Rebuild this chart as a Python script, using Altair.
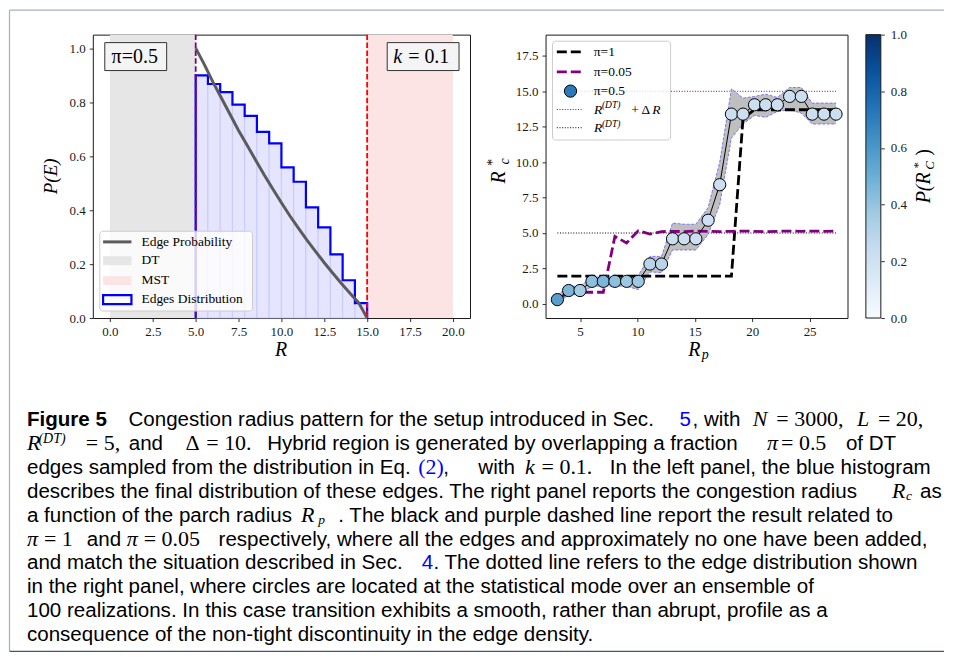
import altair as alt
import pandas as pd

SERIF = "Liberation Serif"
SANS = "Liberation Sans"

# ---------------- left panel: edge distribution ----------------
bin_edges = [5.0, 5.714, 6.429, 7.143, 7.857, 8.571, 9.286, 10.0,
             10.714, 11.429, 12.143, 12.857, 13.571, 14.286, 15.0]
bin_heights = [0.899, 0.867, 0.837, 0.791, 0.749, 0.690, 0.647,
               0.558, 0.505, 0.410, 0.336, 0.236, 0.140, 0.055]
curve_r = [5.0, 5.5, 6.0, 6.5, 7.0, 7.5, 8.0, 8.5, 9.0, 9.5, 10.0,
           10.5, 11.0, 11.5, 12.0, 12.5, 13.0, 13.5, 14.0, 14.5, 15.0]
curve_p = [1.00, 0.94, 0.875, 0.815, 0.755, 0.695, 0.64, 0.585, 0.53, 0.478, 0.427,
           0.378, 0.332, 0.288, 0.246, 0.205, 0.166, 0.128, 0.092, 0.057, 0.0]
dt_span = [0.0, 5.0]
mst_span = [15.0, 20.0]
r_dt = 5.0
r_mst = 15.0
left_xticks = [0, 2.5, 5, 7.5, 10, 12.5, 15, 17.5, 20]
left_yticks = [0, 0.2, 0.4, 0.6, 0.8, 1.0]

# ---------------- right panel: congestion radius ----------------
rp = [3.03, 4.01, 5.0, 6.04, 7.03, 8.04, 9.06, 10.07, 11.09, 12.1, 13.06, 14.07, 15.09,
      16.16, 17.17, 18.19, 19.2, 20.2, 21.17, 22.19, 23.26, 24.28, 25.23, 26.25, 27.3]
rc_mode = [0.30, 0.94, 0.94, 1.59, 1.59, 1.59, 1.59, 1.59, 2.81, 2.81, 4.59, 4.59, 4.59,
           5.90, 8.41, 13.39, 13.39, 14.05, 14.05, 14.05, 14.64, 14.64, 13.39, 13.39, 13.39]
rc_hi = [0.60, 1.25, 1.25, 1.90, 1.90, 1.90, 1.90, 2.00, 3.35, 3.35, 5.70, 5.62, 5.62,
         6.80, 10.0, 15.18, 14.52, 14.64, 14.80, 14.57, 15.27, 15.27, 14.17, 14.17, 14.17]
rc_lo = [0.00, 0.65, 0.65, 1.25, 1.25, 1.25, 1.25, 1.00, 2.25, 2.20, 3.80, 3.80, 3.80,
         4.90, 7.00, 11.70, 12.70, 13.30, 13.16, 13.58, 13.70, 13.46, 12.69, 12.69, 12.69]
p_mode = [0.57, 0.46, 0.36, 0.42, 0.46, 0.42, 0.38, 0.38, 0.30, 0.30, 0.22, 0.22, 0.22,
          0.21, 0.22, 0.22, 0.22, 0.22, 0.22, 0.22, 0.22, 0.22, 0.22, 0.22, 0.22]
rc_pi1 = [1.95, 1.95, 1.95, 1.95, 1.95, 1.95, 1.95, 1.95, 1.95, 1.95, 1.95, 1.95, 1.95,
          1.95, 1.95, 1.95, 13.1, 13.7, 13.7, 13.7, 13.7, 13.7, 13.7, 13.7, 13.7]
rc_pi005 = [0.30, 0.82, 0.82, 0.82, 0.82, 4.76, 4.30, 5.16, 4.92, 5.10, 5.12, 5.10, 5.14,
            5.12, 5.10, 5.12, 5.14, 5.12, 5.10, 5.12, 5.14, 5.12, 5.14, 5.12, 5.14]
r_dt_level = 5.0
r_dt_plus = 15.0
right_xticks = [5, 10, 15, 20, 25]
right_yticks = [0, 2.5, 5, 7.5, 10, 12.5, 15, 17.5]
cbar_ticks = [0, 0.2, 0.4, 0.6, 0.8, 1.0]
blues = ["#f7fbff", "#deebf7", "#c6dbef", "#9ecae1", "#6baed6",
         "#4292c6", "#2171b5", "#08519c", "#08306b"]
blues_stops = [0, 0.125, 0.25, 0.375, 0.5, 0.625, 0.75, 0.875, 1.0]

# ---------------- caption ----------------
cap_base = [425, 449, 473, 497, 521, 545, 568.7, 592.7, 616.6, 640.6]
cap_line = [0, 0, 0, 0, 0, 0, 0, 0,
            1, 1, 1, 1, 1, 1, 1, 1, 1, 1,
            2, 2, 2, 2, 2, 2, 2,
            3, 3, 3, 3,
            4, 4, 4, 4,
            5, 5, 5, 5, 5, 5,
            6, 6, 6,
            7, 8, 9]
cap_x = [26, 127.7, 680, 693, 753.3, 777, 857.7, 878.8,
         26, 37.5, 85, 128, 185, 205.7, 266.7, 767.7, 781.7, 846.7,
         26, 418, 443.3, 478.3, 525, 541.7, 610,
         26, 893, 907, 921,
         26, 300.5, 318, 338,
         26, 43, 86, 126, 143, 218,
         26, 421.7, 433.3,
         26, 26, 26]
cap_text = ["Figure 5", "Congestion radius pattern for the setup introduced in Sec.", "5", ", with",
            "N", "= 3000,", "L", "= 20,",
            "R", "(DT)", "= 5,", "and", "Δ", "= 10.",
            "Hybrid region is generated by overlapping a fraction", "π", "= 0.5", "of DT",
            "edges sampled from the distribution in Eq.", "(2)", ",", "with", "k", "= 0.1.",
            "In the left panel, the blue histogram",
            "describes the final distribution of these edges. The right panel reports the congestion radius",
            "R", "c", "as",
            "a function of the parch radius", "R", "p",
            ". The black and purple dashed line report the result related to",
            "π", "= 1", "and", "π", "= 0.05",
            "respectively, where all the edges and approximately no one have been added,",
            "and match the situation described in Sec.", "4",
            ". The dotted line refers to the edge distribution shown",
            "in the right panel, where circles are located at the statistical mode over an ensemble of",
            "100 realizations. In this case transition exhibits a smooth, rather than abrupt, profile as a",
            "consequence of the non-tight discontinuity in the edge density."]
cap_kind = ["bold", "txt", "link", "txt", "mi", "mr", "mi", "mr",
            "mi", "sup", "mr", "txt", "mr", "mr", "txt", "mi", "mr", "txt",
            "txt", "linkm", "txt", "txt", "mi", "mr", "txt",
            "txt", "mi", "sub", "txt",
            "txt", "mi", "sub", "txt",
            "mi", "mr", "txt", "mi", "mr", "txt",
            "txt", "link", "txt",
            "txt", "txt", "txt"]

one = alt.Data(values=[{"k": 0}])


def T(x, y, s, size=13.5, font=SERIF, style="normal", weight="normal", color="black",
      angle=0, align="left", baseline="middle"):
    return alt.Chart(one).mark_text(
        text=s, fontSize=size, font=font, fontStyle=style, fontWeight=weight,
        color=color, angle=angle, align=align, baseline=baseline
    ).encode(x=alt.value(x), y=alt.value(y))


def BOX(x, y, x2, y2, fill="white", stroke="black", sw=1.0, fop=1.0, radius=0):
    return alt.Chart(one).mark_rect(
        fill=fill, stroke=stroke, strokeWidth=sw, fillOpacity=fop, cornerRadius=radius
    ).encode(x=alt.value(x), x2=alt.value(x2), y=alt.value(y), y2=alt.value(y2))


def SEG(x1, x2, y, color, sw, dash=None):
    kw = dict(color=color, strokeWidth=sw)
    if dash:
        kw["strokeDash"] = dash
    return alt.Chart(one).mark_rule(**kw).encode(x=alt.value(x1), x2=alt.value(x2), y=alt.value(y))


# ======================= LEFT PANEL =======================
xl = alt.Scale(domain=[-1, 21], nice=False, zero=False)
yl = alt.Scale(domain=[0, 1.05], nice=False, zero=False)
axl_x = alt.Axis(values=left_xticks, format=".1f", title=None)
axl_y = alt.Axis(values=left_yticks, format=".1f", title=None)


def LX(f):
    return alt.X(f, type="quantitative", scale=xl, axis=axl_x)


def LY(f):
    return alt.Y(f, type="quantitative", scale=yl, axis=axl_y)


dt_df = pd.DataFrame({"a": [dt_span[0]], "b": [dt_span[1]]})
mst_df = pd.DataFrame({"a": [mst_span[0]], "b": [mst_span[1]]})
bars_df = pd.DataFrame({"lo": bin_edges[:-1], "hi": bin_edges[1:], "h": bin_heights})
step_df = pd.DataFrame({
    "x": [bin_edges[0]] + bin_edges[:-1] + [bin_edges[-1], bin_edges[-1]],
    "y": [0.0] + bin_heights + [bin_heights[-1], 0.0],
})
step_df["i"] = range(len(step_df))
curve_df = pd.DataFrame({"r": curve_r, "p": curve_p})

l_dt = alt.Chart(dt_df).mark_rect(color="#e6e6e6").encode(x=LX("a"), x2="b")
l_mst = alt.Chart(mst_df).mark_rect(color="#fce4e4").encode(x=LX("a"), x2="b")
l_bars = alt.Chart(bars_df).mark_rect(fill="#e5e5ff", stroke="#c4c4fb", strokeWidth=0.8).encode(
    x=LX("lo"), x2="hi", y=LY("h"), y2=alt.datum(0))
l_step = alt.Chart(step_df).mark_line(interpolate="step-after", color="#0000ff", strokeWidth=2.2).encode(
    x=LX("x"), y=LY("y"), order="i:Q")
l_curve = alt.Chart(curve_df).mark_line(color="#5c5c5c", strokeWidth=3).encode(x=LX("r"), y=LY("p"))
l_vdt = alt.Chart(one).mark_rule(color="#800080", strokeWidth=1.8, strokeDash=[5.5, 2.4]).encode(
    x=alt.datum(r_dt))
l_vmst = alt.Chart(one).mark_rule(color="#ff0000", strokeWidth=1.8, strokeDash=[5.5, 2.4]).encode(
    x=alt.datum(r_mst))

left_layers = [l_dt, l_mst, l_bars, l_step, l_curve, l_vdt, l_vmst,
               BOX(12, 8, 74, 36, fill="#f4f4f4", stroke="#333333", sw=1),
               T(42, 22, "π=0.5", size=20, align="center"),
               BOX(295, 8, 367, 36, fill="#f4f4f4", stroke="#333333", sw=1),
               T(301, 22, "k", size=20, style="italic"),
               T(316, 22, "= 0.1", size=20),
               # legend
               BOX(7, 197, 160, 277, fill="white", stroke="#cccccc", sw=1, fop=0.8, radius=3),
               SEG(10.3, 38.7, 207.7, "#5c5c5c", 3),
               BOX(10.3, 222, 38.7, 231, fill="#e6e6e6", stroke="#e6e6e6", sw=0),
               BOX(10.3, 242, 38.7, 251, fill="#fce4e4", stroke="#fce4e4", sw=0),
               BOX(10.3, 261, 38.7, 270, fill="white", stroke="#0000ff", sw=2.2, fop=0),
               T(48.7, 207.7, "Edge Probability"),
               T(48.7, 226.3, "DT"),
               T(48.7, 246.3, "MST"),
               T(48.7, 265.3, "Edges Distribution"),
               # axis titles
               T(-42, 142, "P(E)", size=19, style="italic", angle=270, align="center"),
               T(188.7, 316, "R", size=20, style="italic", align="center"),
               ]
left = alt.layer(*left_layers).properties(width=378, height=284)

# ======================= RIGHT PANEL =======================
xr = alt.Scale(domain=[2.0, 28.3], nice=False, zero=False)
yr = alt.Scale(domain=[-1, 19], nice=False, zero=False)
axr_x = alt.Axis(values=right_xticks, format="d", title=None)
axr_y = alt.Axis(values=right_yticks, format=".1f", title=None)


def RX(f):
    return alt.X(f, type="quantitative", scale=xr, axis=axr_x)


def RY(f):
    return alt.Y(f, type="quantitative", scale=yr, axis=axr_y)


rdf = pd.DataFrame({"rp": rp, "mode": rc_mode, "hi": rc_hi, "lo": rc_lo, "p": p_mode,
                    "pi1": rc_pi1, "pi005": rc_pi005})

r_dot15 = alt.Chart(one).mark_rule(color="#800080", strokeWidth=1, strokeDash=[1, 1.65]).encode(
    x=alt.datum(rp[0]), x2=alt.datum(rp[-1]), y=alt.datum(r_dt_plus))
r_dot5 = alt.Chart(one).mark_rule(color="black", strokeWidth=1, strokeDash=[1, 1.65]).encode(
    x=alt.datum(rp[0]), x2=alt.datum(rp[-1]), y=alt.datum(r_dt_level))
r_band = alt.Chart(rdf).mark_area(color="#bfbfbf", opacity=1).encode(x=RX("rp"), y=RY("hi"), y2="lo")
r_bhi = alt.Chart(rdf).mark_line(color="#5050ff", strokeWidth=0.9, strokeDash=[3, 1.5], opacity=0.8).encode(
    x=RX("rp"), y=RY("hi"))
r_blo = alt.Chart(rdf).mark_line(color="#5050ff", strokeWidth=0.9, strokeDash=[3, 1.5], opacity=0.8).encode(
    x=RX("rp"), y=RY("lo"))
r_pi1 = alt.Chart(rdf).mark_line(color="black", strokeWidth=2.8, strokeDash=[10, 4]).encode(
    x=RX("rp"), y=RY("pi1"))
r_pi005 = alt.Chart(rdf).mark_line(color="#800080", strokeWidth=2.8, strokeDash=[10, 4]).encode(
    x=RX("rp"), y=RY("pi005"))
r_conn = alt.Chart(rdf).mark_line(color="black", strokeWidth=1).encode(x=RX("rp"), y=RY("mode"))
r_pts = alt.Chart(rdf).mark_point(shape="circle", filled=True, size=150, stroke="black",
                                  strokeWidth=1, fillOpacity=1, opacity=1).encode(
    x=RX("rp"), y=RY("mode"),
    fill=alt.Fill("p:Q", scale=alt.Scale(domain=blues_stops, range=blues), legend=None))

right_main = alt.layer(
    r_dot15, r_dot5, r_band, r_bhi, r_blo, r_pi1, r_pi005, r_conn, r_pts,
    # legend
    BOX(7, 6.6, 125.3, 105.6, fill="white", stroke="#cccccc", sw=1, fop=0.8, radius=3),
    SEG(11.3, 37.3, 17.3, "black", 2.8, [10, 4]),
    SEG(11.3, 37.3, 37.3, "#800080", 2.8, [10, 4]),
    alt.Chart(one).mark_point(shape="circle", filled=True, size=150, fill="#2a7ab9", stroke="black",
                              strokeWidth=1, opacity=1).encode(x=alt.value(25), y=alt.value(56.6)),
    SEG(11.3, 37.3, 75, "#800080", 1, [1, 1.65]),
    SEG(11.3, 37.3, 93.3, "black", 1, [1, 1.65]),
    T(48.3, 17.3, "π=1"),
    T(48.3, 37.3, "π=0.05"),
    T(48.3, 56.6, "π=0.5"),
    T(48.6, 75.5, "R", style="italic"),
    T(56.5, 71, "(DT)", size=9.5, style="italic"),
    T(86, 75.5, "+ Δ"),
    T(107, 75.5, "R", style="italic"),
    T(48.6, 93.8, "R", style="italic"),
    T(56.5, 89.3, "(DT)", size=9.5, style="italic"),
    # axis titles
    T(-47, 143, "R", size=20, style="italic", angle=270, align="center"),
    T(-53, 128, "*", size=14, angle=270, align="center"),
    T(-41, 127, "c", size=14, style="italic", angle=270, align="center"),
    T(149, 316, "R", size=20, style="italic", align="center"),
    T(160, 321, "p", size=14, style="italic", align="center"),
    # colorbar title
    T(379.5, 153.5, "P(R", size=20, style="italic", angle=270, align="center"),
    T(373.5, 131, "*", size=13, angle=270, align="center"),
    T(385, 131, "C", size=13, style="italic", angle=270, align="center"),
    T(379.5, 118, ")", size=20, angle=270, align="center"),
)

cb_df = pd.DataFrame({"lo": [cbar_ticks[0]], "hi": [cbar_ticks[-1]]})
grad = alt.LinearGradient(
    gradient="linear",
    stops=[alt.GradientStop(offset=o, color=c) for o, c in zip(blues_stops, blues)],
    x1=0, x2=0, y1=1, y2=0)
cbar = alt.Chart(cb_df).mark_rect(fill=grad, stroke="#1a1a1a", strokeWidth=1).encode(
    x=alt.value(321), x2=alt.value(336),
    y=alt.Y("hi:Q", scale=alt.Scale(domain=[0, 1], nice=False, zero=False),
            axis=alt.Axis(orient="right", offset=33.4, values=cbar_ticks, format=".1f",
                          title=None, labelPadding=6)),
    y2="lo:Q")

right = alt.layer(right_main, cbar).resolve_scale(y="independent").properties(width=302.6, height=284)

# ======================= CAPTION + FRAME =======================
cap_df = pd.DataFrame({"x": cap_x, "text": cap_text, "kind": cap_kind,
                       "y": [cap_base[i] for i in cap_line]})
cxs = alt.Scale(domain=[0, 1000], range=[-92, 908], nice=False, zero=False)
cys = alt.Scale(domain=[0, 700], range=[-337, 363], nice=False, zero=False)
kind_style = {
    "txt": dict(font=SANS, fontSize=20.6, color="black"),
    "bold": dict(font=SANS, fontSize=20.6, fontWeight="bold", color="black"),
    "link": dict(font=SANS, fontSize=20.6, color="#0000ff"),
    "linkm": dict(font=SERIF, fontSize=22, color="#0000ff"),
    "mi": dict(font=SERIF, fontSize=22, fontStyle="italic", color="black"),
    "mr": dict(font=SERIF, fontSize=22, color="black"),
    "sup": dict(font=SERIF, fontSize=14, fontStyle="italic", color="black", dy=-7),
    "sub": dict(font=SERIF, fontSize=13.5, fontStyle="italic", color="black", dy=2),
}
cap_layers = []
for k, st in kind_style.items():
    sub = cap_df[cap_df["kind"] == k]
    cap_layers.append(
        alt.Chart(sub).mark_text(align="left", baseline="alphabetic", **st).encode(
            x=alt.X("x:Q", scale=cxs, axis=None),
            y=alt.Y("y:Q", scale=cys, axis=None),
            text="text:N"))

frame_light = pd.DataFrame({"x": [8.5, 8.5], "x2": [945, 8.5], "y": [8.5, 8.5], "y2": [8.5, 651]})
frame_dark = pd.DataFrame({"x": [8.5], "x2": [945], "y": [651], "y2": [651]})
for fdf, col in [(frame_light, "#9fb0c6"), (frame_dark, "#3e5879")]:
    cap_layers.append(
        alt.Chart(fdf).mark_rule(color=col, strokeWidth=1.2).encode(
            x=alt.X("x:Q", scale=cxs, axis=None), x2="x2:Q",
            y=alt.Y("y:Q", scale=cys, axis=None), y2="y2:Q"))

caption = alt.layer(*cap_layers).properties(
    width=10, height=10, view=alt.ViewBackground(stroke="transparent"))

chart = alt.concat(
    left, right, caption, columns=2,
    spacing={"row": 20, "column": 75.7}, bounds="flush", align="each", padding=0
).configure_view(stroke="#1a1a1a", strokeWidth=1).configure_axis(
    labelFont=SERIF, labelFontSize=13, labelColor="#1a1a1a",
    tickColor="#1a1a1a", tickSize=3.5, tickWidth=0.9, labelPadding=4,
    domain=False, grid=False, labelFlush=False, labelOverlap=False)

chart.save("out.html", embed_options={"renderer": "svg", "actions": False})
